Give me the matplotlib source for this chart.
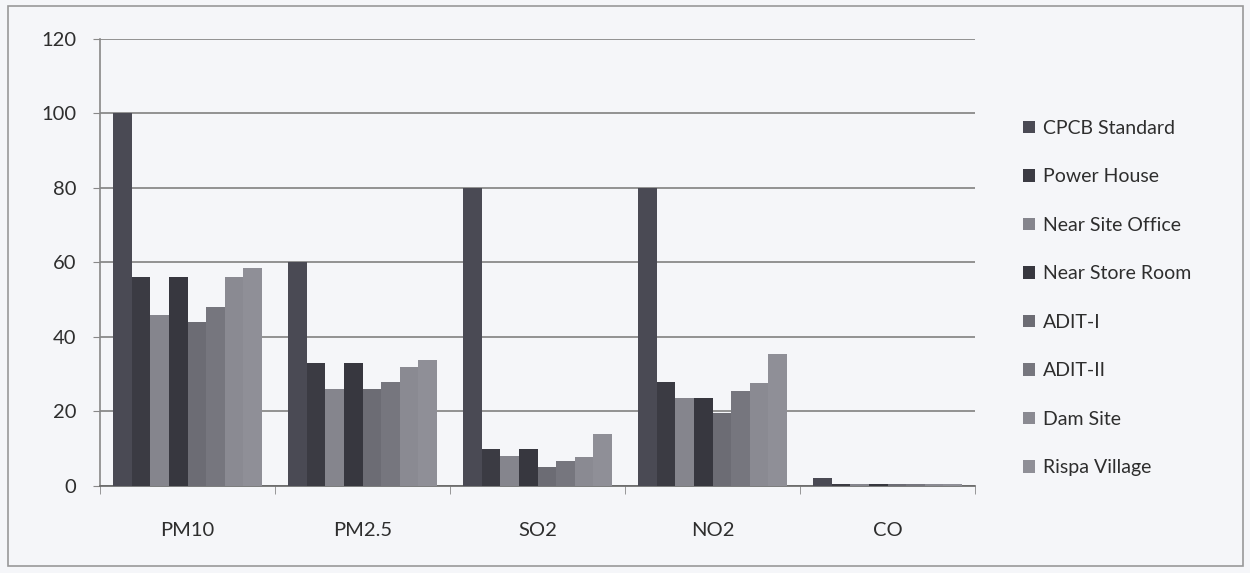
import numpy as np
import matplotlib.pyplot as plt

plt.rcParams['font.family'] = ['Lato', 'DejaVu Sans']

pollutants = ["PM10", "PM2.5", "SO2", "NO2", "CO"]
sites = ["CPCB Standard", "Power House", "Near Site Office", "Near Store Room",
         "ADIT-I", "ADIT-II", "Dam Site", "Rispa Village"]

cpcb_standard = [100, 60, 80, 80, 2]
power_house = [56, 33, 10, 27.8, 0.6]
near_site_office = [46, 26, 8, 23.6, 0.5]
near_store_room = [56, 33, 10, 23.6, 0.5]
adit_1 = [44, 26, 5, 19.5, 0.4]
adit_2 = [48, 28, 6.7, 25.6, 0.5]
dam_site = [56, 32, 7.8, 27.6, 0.5]
rispa_village = [58.5, 33.8, 14, 35.4, 0.5]

values = [cpcb_standard, power_house, near_site_office, near_store_room,
          adit_1, adit_2, dam_site, rispa_village]
colors = ["#4a4a54", "#3b3b43", "#85858d", "#37373f",
          "#6c6c74", "#76767e", "#8a8a92", "#8f8f97"]

bg = "#f5f6f9"
fig = plt.figure(figsize=(12.5, 5.73), dpi=100, facecolor=bg)
ax = fig.add_axes([0.08, 0.152, 0.70, 0.78], facecolor=bg)

x = np.arange(len(pollutants))
n = len(sites)
width = 0.85 / n
for i, (name, vals) in enumerate(zip(sites, values)):
    ax.bar(x - 0.425 + width * (i + 0.5), vals, width, color=colors[i],
           label=name, zorder=3)

ax.set_xlim(-0.5, len(pollutants) - 0.5)
ax.set_ylim(0, 120)
ax.set_yticks(range(0, 121, 20))
ax.yaxis.grid(True, color="#8a8a8a", linewidth=1.3, zorder=0)

ax.set_xticks(x)
ax.set_xticklabels(pollutants)
ax.set_xticks(np.arange(-0.5, len(pollutants)), minor=True)
ax.tick_params(axis="x", which="major", length=0, pad=26, labelsize=14.5,
               labelcolor="#2e2e2e")
ax.tick_params(axis="x", which="minor", length=6, color="#888888")
ax.tick_params(axis="y", length=5, color="#888888", labelsize=14.5,
               labelcolor="#2e2e2e", pad=12)

for side in ["top", "right"]:
    ax.spines[side].set_visible(False)
ax.spines["left"].set_color("#888888")
ax.spines["bottom"].set_color("#666666")
ax.spines["left"].set_linewidth(1.2)
ax.spines["bottom"].set_linewidth(1.2)

ax.legend(loc="center left", bbox_to_anchor=(1.035, 0.42), frameon=False,
          fontsize=14, handlelength=0.6, handleheight=0.6, handletextpad=0.4,
          labelspacing=1.62, labelcolor="#2e2e2e")

border = plt.Rectangle((0.006, 0.012), 0.988, 0.978, transform=fig.transFigure,
                       fill=False, edgecolor="#999999", linewidth=1.2)
fig.patches.append(border)

fig.savefig("out.png", dpi=100, facecolor=bg)
